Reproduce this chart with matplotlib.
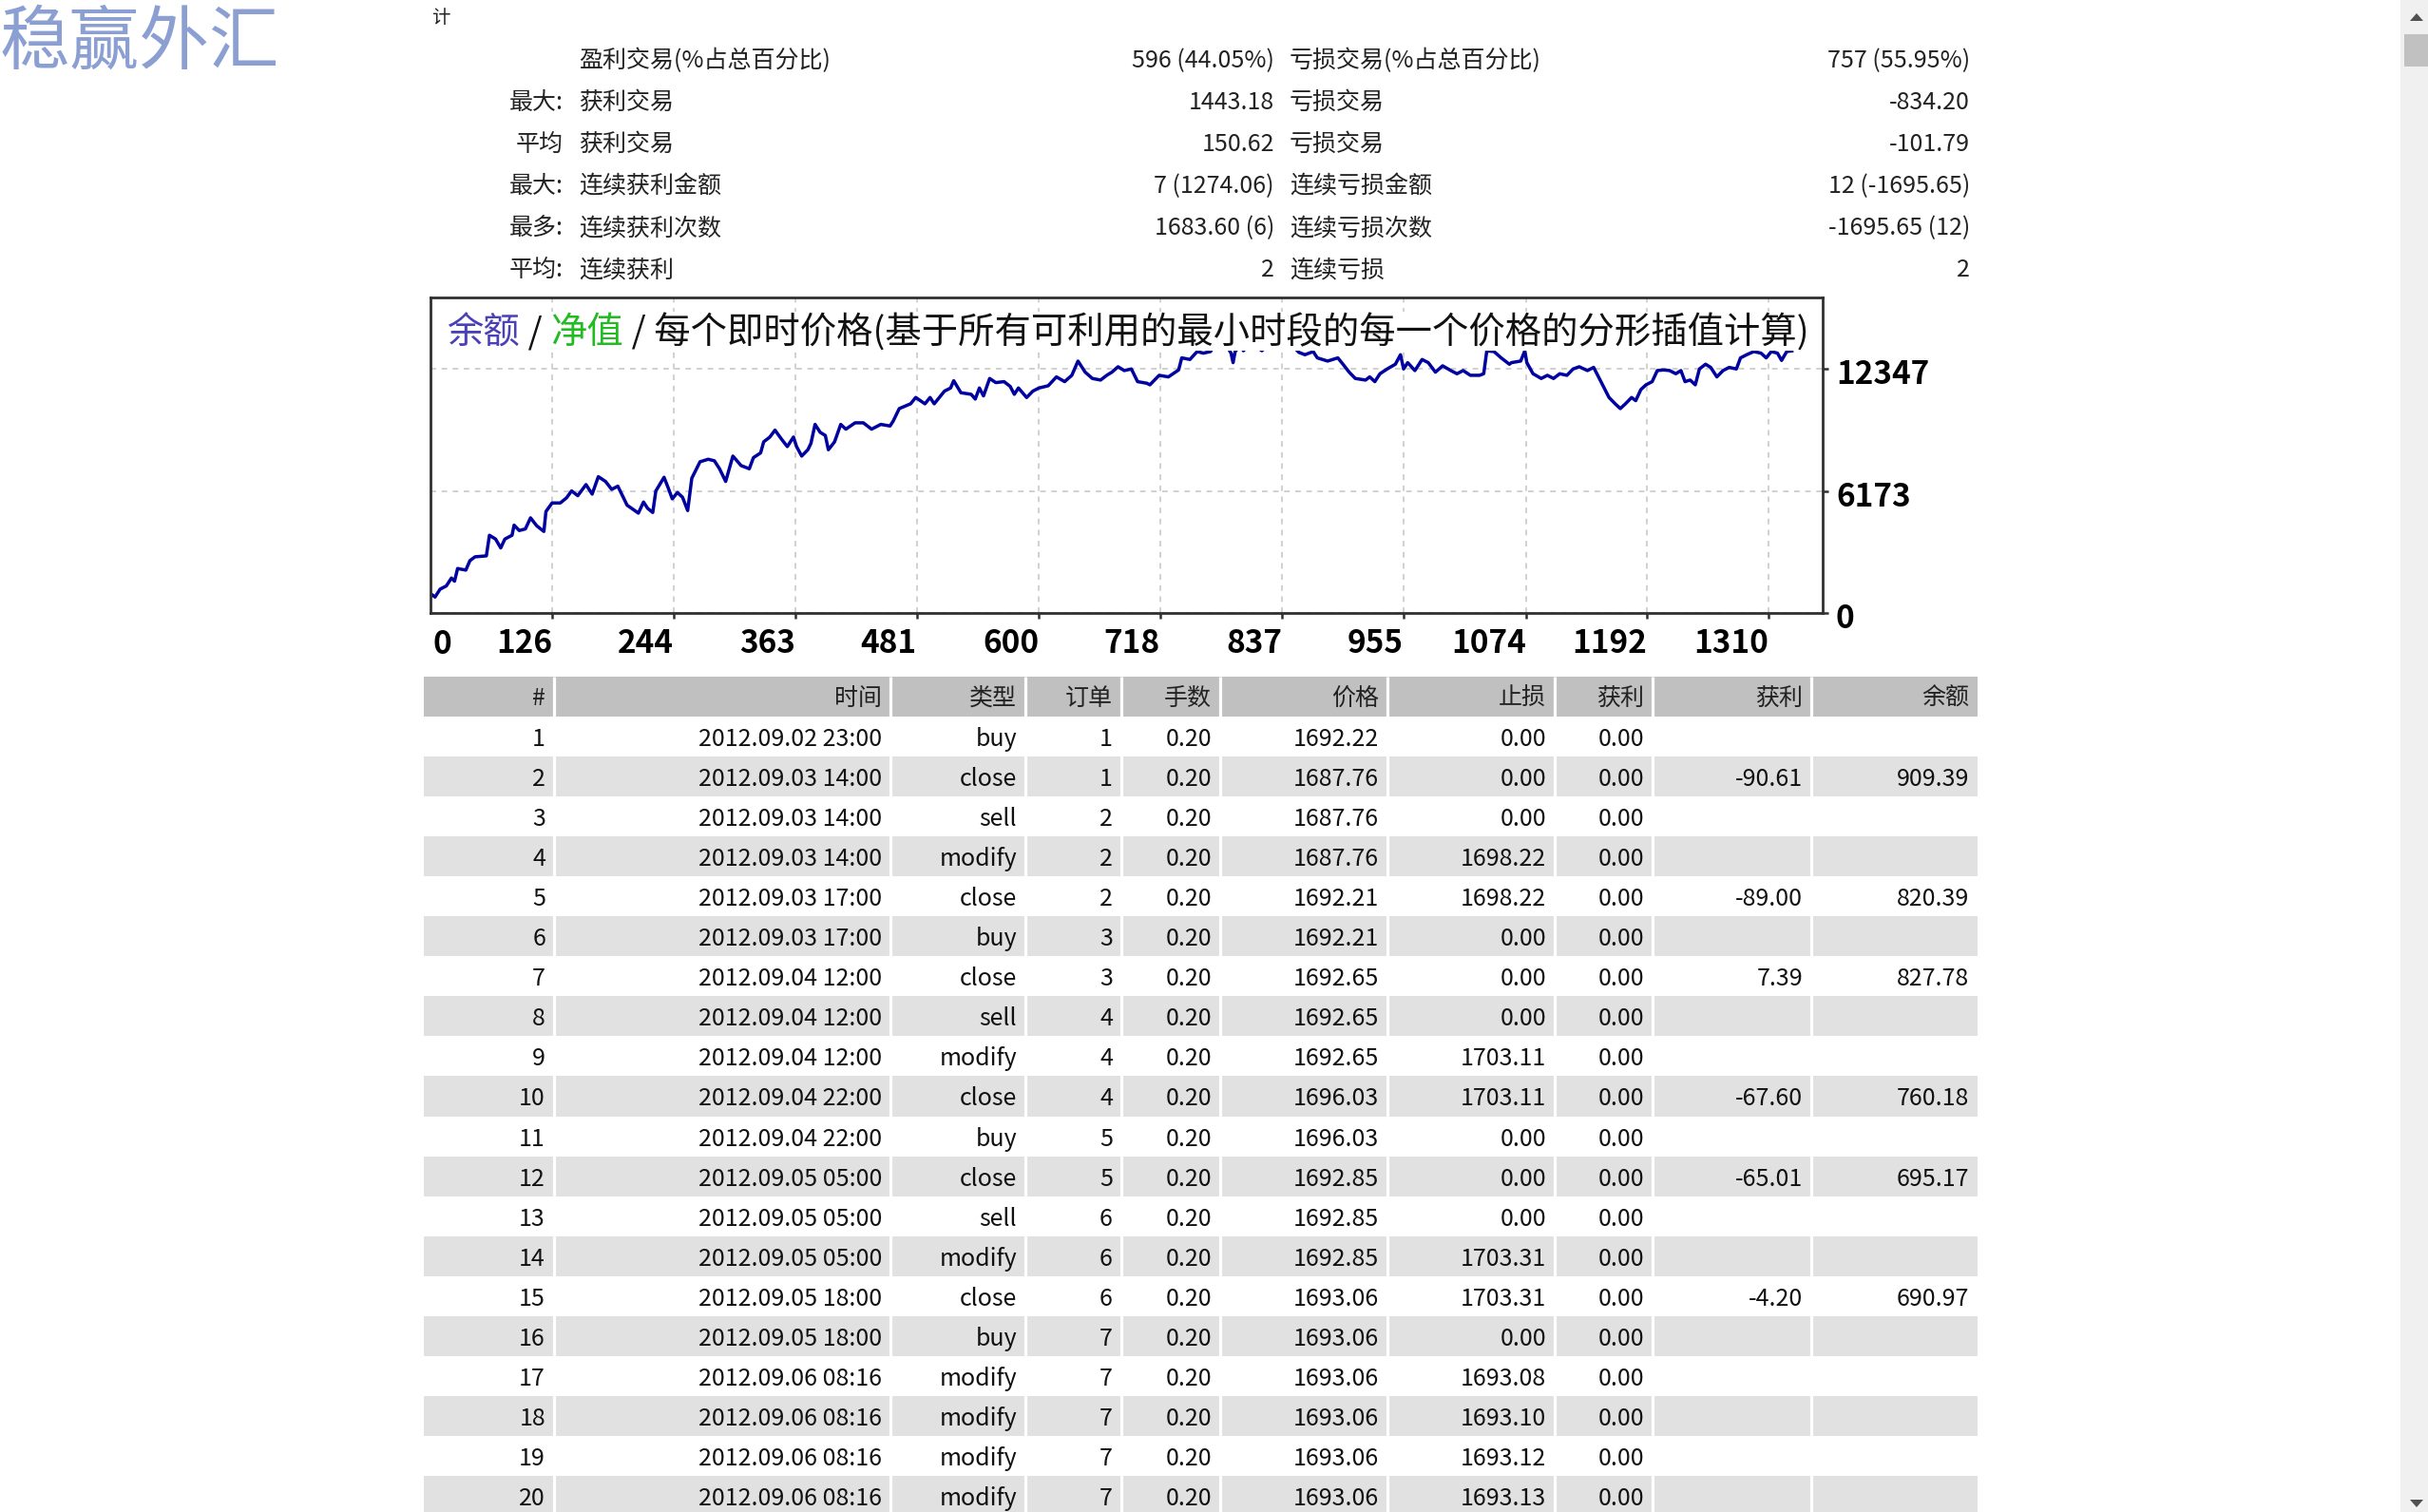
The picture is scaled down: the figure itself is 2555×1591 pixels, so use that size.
import matplotlib
matplotlib.use('Agg')
import matplotlib.pyplot as plt
from matplotlib.patches import Rectangle, Polygon
from matplotlib.transforms import ScaledTranslation

plt.rcParams['font.family'] = ['Noto Sans CJK SC', 'DejaVu Sans']

W, H = 2555, 1591

# 统计数据
stat_prefix = ['', '最大:', '平均', '最大:', '最多:', '平均:']
stat_label1 = ['盈利交易(%占总百分比)', '获利交易', '获利交易', '连续获利金额', '连续获利次数', '连续获利']
stat_value1 = ['596 (44.05%)', '1443.18', '150.62', '7 (1274.06)', '1683.60 (6)', '2']
stat_label2 = ['亏损交易(%占总百分比)', '亏损交易', '亏损交易', '连续亏损金额', '连续亏损次数', '连续亏损']
stat_value2 = ['757 (55.95%)', '-834.20', '-101.79', '12 (-1695.65)', '-1695.65 (12)', '2']

# 余额曲线
trade_no = [8, 12, 17, 23, 28, 31, 34, 42, 46, 51, 62, 65, 71, 76, 80, 87, 89, 94, 100, 105,
            111, 118, 120, 126, 134, 140, 145, 151, 159, 165, 171, 178, 184, 190, 199, 210, 215, 219, 224, 227,
            235, 239, 243, 248, 253, 258, 262, 270, 278, 284, 289, 295, 302, 310, 318, 322, 329, 332, 338, 343,
            349, 355, 361, 364, 369, 375, 378, 382, 387, 392, 395, 401, 407, 412, 421, 429, 437, 446, 455, 458,
            464, 475, 480, 489, 494, 498, 508, 514, 517, 524, 534, 538, 542, 546, 552, 558, 566, 572, 576, 580,
            588, 594, 600, 609, 617, 625, 632, 638, 645, 652, 660, 666, 671, 677, 683, 690, 696, 705, 708, 717,
            726, 736, 739, 747, 754, 760, 767, 773, 782, 787, 789, 791, 797, 799, 807, 817, 828, 844, 853, 859,
            867, 871, 881, 891, 896, 902, 908, 918, 922, 927, 932, 939, 947, 952, 955, 959, 966, 973, 979, 986,
            993, 1001, 1007, 1013, 1020, 1029, 1033, 1036, 1043, 1050, 1058, 1060, 1069, 1073, 1075, 1081, 1089, 1095, 1101, 1107,
            1114, 1120, 1126, 1134, 1140, 1144, 1151, 1155, 1161, 1166, 1171, 1177, 1181, 1186, 1191, 1197, 1202, 1208, 1214, 1220,
            1225, 1229, 1234, 1239, 1243, 1249, 1254, 1260, 1266, 1272, 1279, 1283, 1289, 1296, 1303, 1308, 1313, 1319, 1323, 1328,
            1333]
balance = [967, 806, 1207, 1367, 1768, 1608, 2249, 2169, 2650, 2842, 2890, 3932, 3740, 3291, 3740, 3932, 4445, 4173, 4253, 4814,
           4413, 4125, 5134, 5567, 5567, 5824, 6176, 5936, 6497, 6016, 6898, 6657, 6256, 6417, 5455, 5054, 5615, 5295, 5086, 6176,
           6866, 6337, 5776, 6096, 5856, 5182, 6818, 7651, 7780, 7700, 7298, 6657, 7940, 7459, 7298, 7860, 8100, 8661, 8902, 9254,
           8821, 8421, 8902, 8421, 7940, 8260, 8581, 9543, 9142, 8982, 8260, 8661, 9543, 9302, 9623, 9623, 9302, 9543, 9463, 9703,
           10344, 10585, 10905, 10585, 10905, 10585, 11226, 11386, 11755, 11146, 11066, 10825, 11386, 10985, 11867, 11658, 11707, 11466, 11066, 11386,
           10905, 11226, 11386, 11498, 11947, 11707, 12027, 12748, 12187, 11867, 11787, 12027, 12187, 12460, 12268, 12348, 11707, 11626, 11546, 12027,
           11947, 12300, 12909, 12829, 13230, 13149, 13230, 13700, 13600, 13149, 12669, 13230, 13600, 13270, 13700, 13270, 13800, 13700, 13190, 13069,
           13230, 12909, 12748, 12909, 12588, 12187, 11867, 11787, 11947, 11707, 12107, 12348, 12588, 13069, 12348, 12669, 12268, 12829, 12669, 12187,
           12508, 12268, 12107, 12268, 12027, 12027, 12107, 13262, 13230, 12909, 12588, 12669, 12748, 13262, 12669, 12107, 11867, 12027, 11867, 12107,
           12027, 12348, 12460, 12268, 12428, 12027, 11306, 10905, 10585, 10344, 10585, 10905, 10745, 11306, 11546, 11707, 12268, 12300, 12268, 12107,
           12268, 11707, 11787, 11546, 12348, 12588, 12428, 11947, 12268, 12428, 12348, 12909, 13069, 13230, 13149, 12909, 13230, 13149, 12781, 13230,
           13262]

x_ticks = [126, 244, 363, 481, 600, 718, 837, 955, 1074, 1192, 1310]
y_ticks = [0, 6173, 12347]

# 交易明细
headers = ['#', '时间', '类型', '订单', '手数', '价格', '止损', '获利', '获利', '余额']
col_no = ['1', '2', '3', '4', '5', '6', '7', '8', '9', '10',
          '11', '12', '13', '14', '15', '16', '17', '18', '19', '20']
col_time = ['2012.09.02 23:00', '2012.09.03 14:00', '2012.09.03 14:00', '2012.09.03 14:00', '2012.09.03 17:00',
            '2012.09.03 17:00', '2012.09.04 12:00', '2012.09.04 12:00', '2012.09.04 12:00', '2012.09.04 22:00',
            '2012.09.04 22:00', '2012.09.05 05:00', '2012.09.05 05:00', '2012.09.05 05:00', '2012.09.05 18:00',
            '2012.09.05 18:00', '2012.09.06 08:16', '2012.09.06 08:16', '2012.09.06 08:16', '2012.09.06 08:16']
col_type = ['buy', 'close', 'sell', 'modify', 'close', 'buy', 'close', 'sell', 'modify', 'close',
            'buy', 'close', 'sell', 'modify', 'close', 'buy', 'modify', 'modify', 'modify', 'modify']
col_order = ['1', '1', '2', '2', '2', '3', '3', '4', '4', '4',
             '5', '5', '6', '6', '6', '7', '7', '7', '7', '7']
col_lots = ['0.20'] * 20
col_price = ['1692.22', '1687.76', '1687.76', '1687.76', '1692.21', '1692.21', '1692.65', '1692.65', '1692.65', '1696.03',
             '1696.03', '1692.85', '1692.85', '1692.85', '1693.06', '1693.06', '1693.06', '1693.06', '1693.06', '1693.06']
col_sl = ['0.00', '0.00', '0.00', '1698.22', '1698.22', '0.00', '0.00', '0.00', '1703.11', '1703.11',
          '0.00', '0.00', '0.00', '1703.31', '1703.31', '0.00', '1693.08', '1693.10', '1693.12', '1693.13']
col_tp = ['0.00'] * 20
col_profit = ['', '-90.61', '', '', '-89.00', '', '7.39', '', '', '-67.60',
              '', '-65.01', '', '', '-4.20', '', '', '', '', '']
col_balance = ['', '909.39', '', '', '820.39', '', '827.78', '', '', '760.18',
               '', '695.17', '', '', '690.97', '', '', '', '', '']
columns = [col_no, col_time, col_type, col_order, col_lots, col_price, col_sl, col_tp, col_profit, col_balance]

fig = plt.figure(figsize=(W / 100, H / 100), dpi=100)
fig.patch.set_facecolor('white')

# 像素坐标的底层画布
ov = fig.add_axes([0, 0, 1, 1])
ov.set_xlim(0, W)
ov.set_ylim(H, 0)
ov.axis('off')

ov.text(0, 46, '稳赢外汇', fontsize=53, color='#8b9fd2', ha='left', va='center')
ov.text(454, 19, '计', fontsize=14, color='#222222', ha='left', va='center')

for i in range(len(stat_label1)):
    y = 64 + 44 * i
    kw = dict(fontsize=18, color='#222222', va='center')
    ov.text(593, y, stat_prefix[i], ha='right', **kw)
    ov.text(609, y, stat_label1[i], ha='left', **kw)
    ov.text(1341, y, stat_value1[i], ha='right', **kw)
    ov.text(1357, y, stat_label2[i], ha='left', **kw)
    ov.text(2073, y, stat_value2[i], ha='right', **kw)

# 表格
col_edges = [446, 583, 937, 1079, 1180, 1284, 1460, 1636, 1739, 1906, 2081]
head_top, head_bot, row_h = 712, 754, 42.05
ov.add_patch(Rectangle((col_edges[0], head_top), col_edges[-1] - col_edges[0], head_bot - head_top,
                       facecolor='#c0c0c0', edgecolor='none'))
for r in range(len(col_no)):
    top = head_bot + r * row_h
    if r % 2 == 1:
        ov.add_patch(Rectangle((col_edges[0], top), col_edges[-1] - col_edges[0], row_h,
                               facecolor='#e1e1e1', edgecolor='none'))
ov.vlines(col_edges[1:-1], head_top, H, colors='white', lw=2.3)

for c, name in enumerate(headers):
    ov.text(col_edges[c + 1] - 9, (head_top + head_bot) / 2 + 2, name, fontsize=18, color='#222222',
            ha='right', va='center')
for c, col in enumerate(columns):
    for r, val in enumerate(col):
        ov.text(col_edges[c + 1] - 9, head_bot + (r + 0.5) * row_h + 3, val, fontsize=18, color='#111111',
                ha='right', va='center')

# 滚动条
ov.add_patch(Rectangle((2526, 0), 29, H, facecolor='#f0f0f0', edgecolor='none'))
ov.add_patch(Rectangle((2530, 36), 25, 34, facecolor='#c1c1c1', edgecolor='none'))
ov.add_patch(Polygon([(2536, 22), (2550, 22), (2543, 14)], closed=True, facecolor='#505050', edgecolor='none'))
ov.add_patch(Polygon([(2536, 1578), (2550, 1578), (2543, 1586)], closed=True, facecolor='#505050', edgecolor='none'))

# 余额图
ax = fig.add_axes([453 / W, 1 - 645 / H, 1465 / W, 332 / H])
ax.set_facecolor('white')
ax.plot(trade_no, balance, color='#0000a0', lw=2.5, zorder=2)
ax.set_xlim(7.6, 1363)
ax.set_ylim(0, 15967)
ax.set_axisbelow(True)
ax.grid(True, color='#c8c8c8', ls=(0, (3.5, 3.5)), lw=1.2)

ax.set_xticks(x_ticks)
ax.set_xticklabels([str(v) for v in x_ticks])
ax.yaxis.tick_right()
ax.set_yticks(y_ticks)
ax.set_yticklabels([str(v) for v in y_ticks])
ax.tick_params(axis='x', direction='out', length=4, width=1.8, pad=7.5, labelsize=24, color='#303030')
ax.tick_params(axis='y', direction='out', length=4, width=1.8, pad=6, labelsize=24, color='#303030')
shift = ScaledTranslation(0, -3 / 100, fig.dpi_scale_trans)
for lbl in ax.get_xticklabels():
    lbl.set_ha('right')
    lbl.set_fontweight('bold')
for lbl in ax.get_yticklabels():
    lbl.set_fontweight('bold')
    lbl.set_transform(lbl.get_transform() + shift)
ax.text(0.002, -0.101, '0', transform=ax.transAxes, fontsize=24, fontweight='bold', ha='left', va='center')

for sp in ax.spines.values():
    sp.set_color('#303030')
    sp.set_linewidth(2)

# 标题白底
ax.add_patch(Rectangle((0.008, 0.831), 0.983, 0.124, transform=ax.transAxes,
                       facecolor='white', edgecolor='none', zorder=3))
t1 = ax.text(0.0116, 0.827, '余额', transform=ax.transAxes, fontsize=27.6, color='#4a40b8',
             ha='left', va='bottom', zorder=4)
t2 = ax.annotate(' / ', xy=(1, 0), xycoords=t1, fontsize=27.6, color='#111111', ha='left', va='bottom', zorder=4)
t3 = ax.annotate('净值', xy=(1, 0), xycoords=t2, fontsize=27.6, color='#22bb22', ha='left', va='bottom', zorder=4)
t4 = ax.annotate(' / 每个即时价格(基于所有可利用的最小时段的每一个价格的分形插值计算)', xy=(1, 0), xycoords=t3,
                 fontsize=27.6, color='#111111', ha='left', va='bottom', zorder=4)

fig.savefig('out.png', dpi=100)
